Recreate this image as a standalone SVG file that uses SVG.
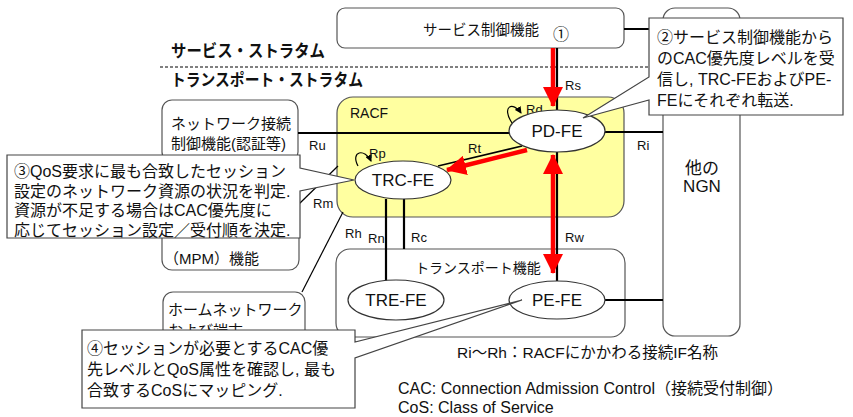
<svg xmlns="http://www.w3.org/2000/svg" width="853" height="417" viewBox="0 0 853 417">
<style>
text{font-family:"Liberation Sans","Noto Sans CJK JP",sans-serif;fill:#111}
.box{fill:#fff;stroke:#555;stroke-width:1.2}
.ell{fill:#fff;stroke:#333;stroke-width:1.2}
.lbl{font-size:13px}
.nm{font-size:17px;text-anchor:middle}
.cl{font-size:16px}
.conn{stroke:#000;stroke-width:2.2;fill:none}
.thin{stroke:#000;stroke-width:1.2;fill:none}
.red{stroke:#f00;stroke-width:4.5;fill:none}
.call{fill:#fff;stroke:#444;stroke-width:1.2}
.st{font-size:16.5px;font-weight:bold}
</style>
<defs>
<marker id="rh" markerUnits="userSpaceOnUse" markerWidth="20" markerHeight="20" viewBox="0 0 20 20" refX="19" refY="10" orient="auto-start-reverse"><path d="M0,0 L20,10 L0,20 z" fill="#f00"/></marker>
<marker id="bh" markerUnits="userSpaceOnUse" markerWidth="7" markerHeight="7" viewBox="0 0 7 7" refX="6" refY="3.5" orient="auto"><path d="M0,0 L7,3.5 L0,7 z" fill="#000"/></marker>
</defs>

<g id="strata">
<text class="st" x="171" y="57" textLength="154" lengthAdjust="spacingAndGlyphs">サービス・ストラタム</text>
<line x1="160" y1="67" x2="663" y2="67" stroke="#000" stroke-width="1" stroke-dasharray="3,2"/>
<text class="st" x="171" y="86" textLength="192" lengthAdjust="spacingAndGlyphs">トランスポート・ストラタム</text>
</g>

<g id="service-control">
<rect class="box" x="337" y="8" width="287" height="40" rx="8"/>
<text x="481" y="35" font-size="14.5" text-anchor="middle">サービス制御機能</text>
<text x="561" y="40" font-size="16" text-anchor="middle">①</text>
</g>

<g id="ngn">
<rect class="box" x="663" y="8" width="77" height="328" rx="12"/>
<text x="702" y="174" font-size="17" text-anchor="middle">他の</text>
<text x="702" y="192" font-size="17" text-anchor="middle">NGN</text>
</g>

<g id="racf">
<rect x="337" y="97" width="287" height="120" rx="16" fill="#ffffa0" stroke="#555" stroke-width="1.2"/>
<text x="350" y="118" font-size="14">RACF</text>
</g>

<g id="transport">
<rect class="box" x="336" y="249" width="289" height="88" rx="14"/>
<text x="478" y="273" font-size="14" text-anchor="middle">トランスポート機能</text>
</g>

<g id="nacf">
<rect class="box" x="162" y="100" width="136" height="62" rx="10"/>
<text x="171" y="129" font-size="15">ネットワーク接続</text>
<text x="171" y="149" font-size="15">制御機能(認証等)</text>
</g>

<g id="mpm">
<rect class="box" x="162" y="215" width="137" height="55" rx="10"/>
<text x="164" y="264" font-size="15">（MPM）機能</text>
</g>

<g id="home">
<rect class="box" x="163" y="292" width="142" height="55" rx="10"/>
<text x="168" y="315" font-size="15">ホームネットワーク</text>
<text x="168" y="336" font-size="15">および端末</text>
</g>

<g id="connectors">
<line class="conn" x1="624" y1="29" x2="663" y2="29"/>
<line class="conn" x1="557" y1="48" x2="557" y2="110"/>
<line class="conn" x1="298" y1="133" x2="510" y2="133"/>
<line class="conn" x1="605" y1="132" x2="663" y2="132"/>
<line class="conn" x1="557" y1="152" x2="557" y2="281"/>
<line class="conn" x1="386" y1="199" x2="386" y2="281"/>
<line class="conn" x1="404" y1="199" x2="404" y2="249"/>
<line class="conn" x1="605" y1="300" x2="663" y2="300"/>
<line stroke="#000" stroke-width="1.6" x1="438" y1="166" x2="522" y2="146"/>
<line class="thin" x1="299" y1="204" x2="338" y2="166"/>
<line class="thin" x1="302" y1="292" x2="343" y2="212"/>
<path class="thin" d="M512,123 C501,106 513,101 521,113" marker-end="url(#bh)"/>
<path class="thin" d="M358,166 C350,151 365,148 371,161" marker-end="url(#bh)"/>
<line class="red" x1="553" y1="48" x2="553" y2="106" marker-end="url(#rh)"/>
<line class="red" x1="527" y1="150" x2="447" y2="170" marker-end="url(#rh)"/>
<line class="red" x1="553" y1="155" x2="553" y2="273" marker-start="url(#rh)" marker-end="url(#rh)"/>
<text class="lbl" x="565" y="90">Rs</text>
<text class="lbl" x="526" y="114">Rd</text>
<text class="lbl" x="309" y="150">Ru</text>
<text class="lbl" x="637" y="150">Ri</text>
<text class="lbl" x="369" y="158">Rp</text>
<text class="lbl" x="468" y="153">Rt</text>
<text class="lbl" x="313" y="208">Rm</text>
<text class="lbl" x="345" y="238">Rh</text>
<text class="lbl" x="368" y="243">Rn</text>
<text class="lbl" x="411" y="242">Rc</text>
<text class="lbl" x="565" y="242">Rw</text>
</g>

<g id="pd-fe">
<ellipse class="ell" cx="557" cy="131" rx="48" ry="21"/>
<text class="nm" x="557" y="137">PD-FE</text>
</g>
<g id="trc-fe">
<ellipse class="ell" cx="403" cy="180" rx="48" ry="19"/>
<text class="nm" x="403" y="186">TRC-FE</text>
</g>
<g id="tre-fe">
<ellipse class="ell" cx="396" cy="300" rx="48" ry="20"/>
<text class="nm" x="396" y="306">TRE-FE</text>
</g>
<g id="pe-fe">
<ellipse class="ell" cx="557" cy="300" rx="48" ry="19"/>
<text class="nm" x="557" y="306">PE-FE</text>
</g>

<g id="callout2">
<path class="call" d="M649,18 H843 V115 H649 V100 L583,118 L649,77 Z"/>
<text class="cl" x="657" y="43">②サービス制御機能から</text>
<text class="cl" x="657" y="64">のCAC優先度レベルを受</text>
<text class="cl" x="657" y="85">信し, TRC-FEおよびPE-</text>
<text class="cl" x="657" y="106">FEにそれぞれ転送.</text>
</g>

<g id="callout3">
<path class="call" d="M7,155 H300 V168 L354,180 L300,191 V238 H7 Z"/>
<text class="cl" x="14" y="177">③QoS要求に最も合致したセッション</text>
<text class="cl" x="14" y="197">設定のネットワーク資源の状況を判定.</text>
<text class="cl" x="14" y="216">資源が不足する場合はCAC優先度に</text>
<text class="cl" x="14" y="236">応じてセッション設定／受付順を決定.</text>
</g>

<g id="callout4">
<path class="call" d="M82,330 H355 V342 L522,300 L355,358 V408 H82 Z"/>
<text class="cl" x="87" y="354">④セッションが必要とするCAC優</text>
<text class="cl" x="87" y="375">先レベルとQoS属性を確認し, 最も</text>
<text class="cl" x="87" y="396">合致するCoSにマッピング.</text>
</g>

<g id="notes">
<text x="457" y="358" font-size="15.5">Ri〜Rh：RACFにかかわる接続IF名称</text>
<text x="398" y="394" font-size="16">CAC: Connection Admission Control（接続受付制御）</text>
<text x="398" y="413" font-size="16">CoS: Class of Service</text>
</g>
</svg>
